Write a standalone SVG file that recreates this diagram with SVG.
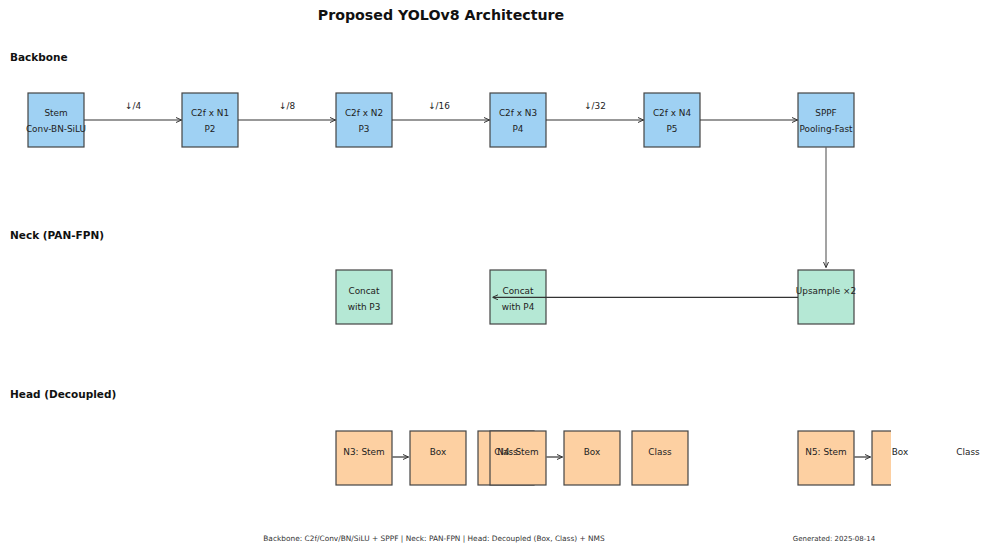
<svg xmlns="http://www.w3.org/2000/svg" width="981" height="544" viewBox="0 0 981 544">
<style>
  text { font-family: "DejaVu Sans", "Liberation Sans", sans-serif; fill: #222; }
  .title { font-size: 14.2px; font-weight: bold; text-anchor: middle; fill: #111; }
  .sec { font-size: 10.5px; font-weight: bold; fill: #111; }
  .lbl { font-size: 8.9px; text-anchor: middle; }
  .elbl { font-size: 8.9px; text-anchor: middle; }
  .foot { font-size: 7px; text-anchor: middle; fill: #333; }
  .bb { fill: #9fd1f3; stroke: #444; stroke-width: 1.2; }
  .nk { fill: #b5e8d5; stroke: #444; stroke-width: 1.2; }
  .hd { fill: #fdd0a2; stroke: #444; stroke-width: 1.2; }
  .arr { stroke: #333; stroke-width: 1.2; fill: none; marker-end: url(#ah); }
  .arrg { stroke: #666; stroke-width: 1.2; fill: none; marker-end: url(#ah); }
</style>
<defs>
  <marker id="ah" viewBox="0 0 6 6" refX="6" refY="3" markerWidth="6" markerHeight="6" markerUnits="userSpaceOnUse" orient="auto">
    <path d="M0.5,0.5 L6,3 L0.5,5.5" fill="none" stroke="#333" stroke-width="1"/>
  </marker>
  <clipPath id="axclip"><rect x="0" y="0" width="891" height="544"/></clipPath>
</defs>
<rect x="0" y="0" width="981" height="544" fill="#ffffff"/>

<text class="title" x="441" y="20">Proposed YOLOv8 Architecture</text>
<text class="sec" x="10" y="61">Backbone</text>
<text class="sec" x="10" y="239">Neck (PAN-FPN)</text>
<text class="sec" x="10" y="398">Head (Decoupled)</text>

<g id="nodes">
  <g id="stem"><rect class="bb" x="28" y="93" width="56" height="54"/>
    <text class="lbl" x="56" y="116">Stem</text><text class="lbl" x="56" y="132">Conv-BN-SiLU</text></g>
  <g id="c2f-n1"><rect class="bb" x="182" y="93" width="56" height="54"/>
    <text class="lbl" x="210" y="116">C2f x N1</text><text class="lbl" x="210" y="132">P2</text></g>
  <g id="c2f-n2"><rect class="bb" x="336" y="93" width="56" height="54"/>
    <text class="lbl" x="364" y="116">C2f x N2</text><text class="lbl" x="364" y="132">P3</text></g>
  <g id="c2f-n3"><rect class="bb" x="490" y="93" width="56" height="54"/>
    <text class="lbl" x="518" y="116">C2f x N3</text><text class="lbl" x="518" y="132">P4</text></g>
  <g id="c2f-n4"><rect class="bb" x="644" y="93" width="56" height="54"/>
    <text class="lbl" x="672" y="116">C2f x N4</text><text class="lbl" x="672" y="132">P5</text></g>
  <g id="sppf"><rect class="bb" x="798" y="93" width="56" height="54"/>
    <text class="lbl" x="826" y="116">SPPF</text><text class="lbl" x="826" y="132">Pooling-Fast</text></g>

  <g id="concat-p3"><rect class="nk" x="336" y="270" width="56" height="54"/>
    <text class="lbl" x="364" y="294">Concat</text><text class="lbl" x="364" y="310">with P3</text></g>
  <g id="concat-p4"><rect class="nk" x="490" y="270" width="56" height="54"/>
    <text class="lbl" x="518" y="294">Concat</text><text class="lbl" x="518" y="310">with P4</text></g>
  <g id="upsample"><rect class="nk" x="798" y="270" width="56" height="54"/>
    <text class="lbl" x="826" y="294">Upsample ×2</text></g>

  <g id="n3-stem"><rect class="hd" x="336" y="431" width="56" height="54"/>
    <text class="lbl" x="364" y="454.5">N3: Stem</text></g>
  <g id="n3-box"><rect class="hd" x="410" y="431" width="56" height="54"/>
    <text class="lbl" x="438" y="454.5">Box</text></g>
  <g id="n3-class"><rect class="hd" x="478" y="431" width="56" height="54"/></g>
  <g id="n4-stem"><rect class="hd" x="490" y="431" width="56" height="54"/>
    <text class="lbl" x="518" y="454.5">N4: Stem</text></g>
  <g id="n3-class-label"><text class="lbl" x="506" y="454.5">Class</text></g>
  <g id="n4-box"><rect class="hd" x="564" y="431" width="56" height="54"/>
    <text class="lbl" x="592" y="454.5">Box</text></g>
  <g id="n4-class"><rect class="hd" x="632" y="431" width="56" height="54"/>
    <text class="lbl" x="660" y="454.5">Class</text></g>
  <g id="n5-stem"><rect class="hd" x="798" y="431" width="56" height="54"/>
    <text class="lbl" x="826" y="454.5">N5: Stem</text></g>
  <g id="n5-box"><rect class="hd" x="872" y="431" width="56" height="54" clip-path="url(#axclip)"/>
    <text class="lbl" x="900" y="454.5">Box</text></g>
  <g id="n5-class"><text class="lbl" x="968" y="454.5">Class</text></g>
</g>

<g id="connectors">
  <line class="arr" x1="84" y1="120" x2="181.5" y2="120"/>
  <line class="arr" x1="238" y1="120" x2="335.5" y2="120"/>
  <line class="arr" x1="392" y1="120" x2="489.5" y2="120"/>
  <line class="arr" x1="546" y1="120" x2="643.5" y2="120"/>
  <line class="arr" x1="700" y1="120" x2="797.5" y2="120"/>
  <text class="elbl" x="133" y="108.5">↓/4</text>
  <text class="elbl" x="287" y="108.5">↓/8</text>
  <text class="elbl" x="439" y="108.5">↓/16</text>
  <text class="elbl" x="595" y="108.5">↓/32</text>
  <line class="arrg" x1="826" y1="147" x2="826" y2="267.5"/>
  <line class="arr" x1="798" y1="297.3" x2="492.5" y2="297.3"/>
  <line class="arr" x1="392.5" y1="457" x2="408.5" y2="457"/>
  <line class="arr" x1="546.5" y1="457" x2="562.5" y2="457"/>
  <line class="arr" x1="854.5" y1="457" x2="870.5" y2="457"/>
</g>

<text class="foot" x="434" y="541" style="font-size:7.4px">Backbone: C2f/Conv/BN/SiLU + SPPF | Neck: PAN-FPN | Head: Decoupled (Box, Class) + NMS</text>
<text class="foot" x="834" y="541">Generated: 2025-08-14</text>
</svg>
